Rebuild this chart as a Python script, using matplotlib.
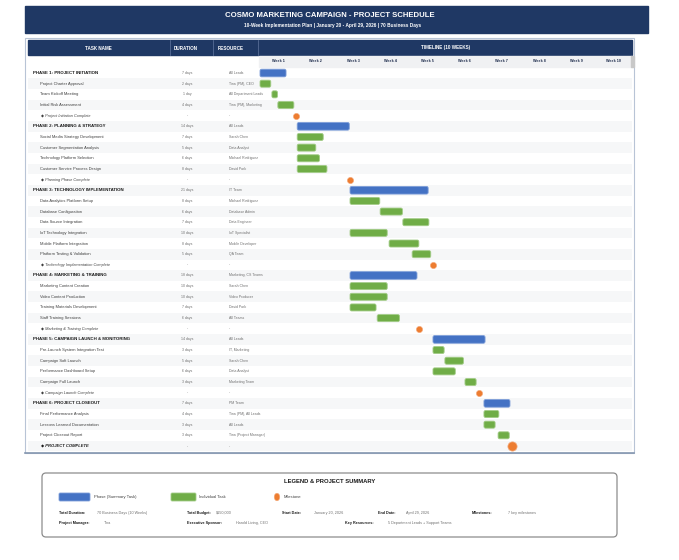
import numpy as np
import matplotlib
matplotlib.use('Agg')
import matplotlib.pyplot as plt
import matplotlib.transforms as mtrans
from matplotlib.patches import Rectangle, FancyBboxPatch, Ellipse

plt.rcParams['font.family'] = ['Liberation Sans', 'DejaVu Sans']

# ---------------- data ----------------
tasks = ['PHASE 1: PROJECT INITIATION', 'Project Charter Approval', 'Team Kickoff Meeting',
         'Initial Risk Assessment', 'Project Initiation Complete',
         'PHASE 2: PLANNING & STRATEGY', 'Social Media Strategy Development',
         'Customer Segmentation Analysis', 'Technology Platform Selection',
         'Customer Service Process Design', 'Planning Phase Complete',
         'PHASE 3: TECHNOLOGY IMPLEMENTATION', 'Data Analytics Platform Setup',
         'Database Configuration', 'Data Source Integration', 'IoT Technology Integration',
         'Mobile Platform Integration', 'Platform Testing & Validation',
         'Technology Implementation Complete',
         'PHASE 4: MARKETING & TRAINING', 'Marketing Content Creation', 'Video Content Production',
         'Training Materials Development', 'Staff Training Sessions', 'Marketing & Training Complete',
         'PHASE 5: CAMPAIGN LAUNCH & MONITORING', 'Pre-Launch System Integration Test',
         'Campaign Soft Launch', 'Performance Dashboard Setup', 'Campaign Full Launch',
         'Campaign Launch Complete',
         'PHASE 6: PROJECT CLOSEOUT', 'Final Performance Analysis', 'Lessons Learned Documentation',
         'Project Closeout Report', 'PROJECT COMPLETE']

# P = phase, T = task, M = milestone, F = final milestone
kinds = ['P', 'T', 'T', 'T', 'M',
         'P', 'T', 'T', 'T', 'T', 'M',
         'P', 'T', 'T', 'T', 'T', 'T', 'T', 'M',
         'P', 'T', 'T', 'T', 'T', 'M',
         'P', 'T', 'T', 'T', 'T', 'M',
         'P', 'T', 'T', 'T', 'F']

durations = ['7 days', '2 days', '1 day', '4 days', '-',
             '14 days', '7 days', '5 days', '6 days', '8 days', '-',
             '21 days', '8 days', '6 days', '7 days', '10 days', '8 days', '5 days', '-',
             '18 days', '10 days', '10 days', '7 days', '6 days', '-',
             '14 days', '3 days', '5 days', '6 days', '3 days', '-',
             '7 days', '4 days', '3 days', '3 days', '-']

resources = ['All Leads', 'Tina (PM), CEO', 'All Department Leads', 'Tina (PM), Marketing', '-',
             'All Leads', 'Sarah Chen', 'Data Analyst', 'Michael Rodriguez', 'David Park', '-',
             'IT Team', 'Michael Rodriguez', 'Database Admin', 'Data Engineer', 'IoT Specialist',
             'Mobile Developer', 'QA Team', '-',
             'Marketing, CS Teams', 'Sarah Chen', 'Video Producer', 'David Park', 'All Teams', '-',
             'All Leads', 'IT, Marketing', 'Sarah Chen', 'Data Analyst', 'Marketing Team', '-',
             'PM Team', 'Tina (PM), All Leads', 'All Leads', 'Tina (Project Manager)', '-']

# timeline position (10 units per week)
starts = [0, 0, 3.2, 4.8, 9.8,
          10, 10, 10, 10, 10, 24.3,
          24.2, 24.2, 32.3, 38.4, 24.2, 34.7, 40.9, 46.5,
          24.2, 24.2, 24.2, 24.2, 31.5, 42.7,
          46.5, 46.5, 49.7, 46.5, 55.1, 58.9,
          60.2, 60.2, 60.2, 64.0, 67.7]
spans = [7, 2.9, 1.5, 4.3, 0,
         14, 7, 5, 6, 8, 0,
         21, 8, 6, 7, 10, 8, 5, 0,
         18, 10, 10, 7, 6, 0,
         14, 3, 5, 6, 3, 0,
         7, 4, 3, 3, 0]

weeks = ['Week %d' % i for i in range(1, 11)]

NAVY = '#1f3864'
BLUE = '#4472c4'
GREEN = '#70ad47'
ORANGE = '#ed7d31'

# ---------------- figure ----------------
fig = plt.figure(figsize=(6.79, 5.60), dpi=100)
W, H = 679, 560

# decoration layer in pixel coordinates
deco = fig.add_axes([0, 0, 1, 1], zorder=0)
deco.set_xlim(0, W)
deco.set_ylim(H, 0)
deco.axis('off')

# title banner
deco.add_patch(Rectangle((25, 6), 623, 27, color=NAVY))
deco.text(330, 15.5, 'COSMO MARKETING CAMPAIGN - PROJECT SCHEDULE', color='white',
          fontsize=5.6, fontweight='bold', ha='center', va='center')
deco.text(333, 25.5, '10-Week Implementation Plan | January 20 - April 29, 2026 | 70 Business Days',
          color='white', fontsize=3.45, fontweight='bold', ha='center', va='center')

# table frame
deco.add_patch(Rectangle((25, 38), 609, 414.5, fill=False, ec='#b8c4d6', lw=0.8))
deco.plot([25, 634], [452.5, 452.5], color='#8597b0', lw=1.2)

# header row
deco.add_patch(Rectangle((28, 40), 604, 15, color=NAVY))
for xs in [170, 213, 258]:
    deco.plot([xs, xs], [40, 55], color='#6277a0', lw=0.5)
hdr = dict(color='white', fontsize=3.3, fontweight='bold', ha='center', va='center')
deco.text(98, 48, 'TASK NAME', **hdr)
deco.text(186, 48, 'DURATION', **hdr)
deco.text(231, 48, 'RESOURCE', **hdr)
deco.text(446, 48, 'TIMELINE (10 WEEKS)', **hdr)

# week header row
deco.add_patch(Rectangle((259, 56), 373, 10.5, color='#f0f1f3'))
deco.add_patch(Rectangle((631, 56), 2.5, 10.5, color='#c8c8c8'))

# ---------------- gantt axes ----------------
px_per_unit = 37.2 / 10
x_left = (28 - 260) / px_per_unit
x_right = 100
row_top, row_bot = 67.7, 451.3
ax = fig.add_axes([28 / W, 1 - row_bot / H, (632 - 28) / W, (row_bot - row_top) / H],
                  zorder=1, facecolor='none')
n = len(tasks)
ax.set_xlim(x_left, x_right)
ax.set_ylim(n - 0.5, -0.5)
for s in ax.spines.values():
    s.set_visible(False)
ax.set_yticks([])
ax.xaxis.tick_top()
ax.set_xticks(np.arange(5, 100, 10))
ax.set_xticklabels(weeks, fontsize=2.7, fontweight='bold', color='#1f2d4d')
ax.tick_params(axis='x', length=0, pad=3.6)

# zebra stripes
for i in range(n):
    if i % 2 == 1:
        ax.axhspan(i - 0.5, i + 0.5, color='#f6f7f8', zorder=0, lw=0)

y = np.arange(n)
kinds_arr = np.array(kinds)
starts_arr = np.array(starts)
spans_arr = np.array(spans)

ph = kinds_arr == 'P'
tk = kinds_arr == 'T'
ms = kinds_arr == 'M'
fin = kinds_arr == 'F'

row_px = (row_bot - row_top) / n
aspect = px_per_unit / row_px


def rounded(bars, fc, ec):
    # swap the plain bars for rounded ones with the same geometry
    for r in bars:
        r.set_visible(False)
        ax.add_patch(FancyBboxPatch((r.get_x(), r.get_y()), r.get_width(), r.get_height(),
                                    boxstyle='round,pad=0,rounding_size=0.45',
                                    mutation_aspect=aspect, fc=fc, ec=ec, lw=0.6, zorder=3))


b1 = ax.barh(y[ph], spans_arr[ph], left=starts_arr[ph], height=0.72, color=BLUE)
rounded(b1, BLUE, '#7f9fd9')
b2 = ax.barh(y[tk], spans_arr[tk], left=starts_arr[tk], height=0.66, color=GREEN)
rounded(b2, GREEN, '#a3cc88')
ax.scatter(starts_arr[ms], y[ms], s=20, color=ORANGE, edgecolors='#f4a97a',
           linewidths=0.4, zorder=4)
ax.scatter(starts_arr[fin], y[fin], s=44, color=ORANGE, edgecolors='#f4a97a',
           linewidths=0.5, zorder=4)

# table text: x in pixels, y in rows
blend = mtrans.blended_transform_factory(deco.transData, ax.transData)
for i in range(n):
    k = kinds[i]
    if k == 'P':
        ax.text(33, i, tasks[i], transform=blend, fontsize=3.2, fontweight='bold',
                color='#1a1a1a', va='center', ha='left')
    elif k == 'T':
        ax.text(40, i, tasks[i], transform=blend, fontsize=2.85, color='#404040',
                va='center', ha='left')
    elif k == 'M':
        ax.text(41, i, '\u25c6 ' + tasks[i], transform=blend, fontsize=2.8,
                style='italic', color='#404040', va='center', ha='left')
    else:
        ax.text(41, i, '\u25c6 ' + tasks[i], transform=blend, fontsize=3.0,
                style='italic', fontweight='bold', color='#1a1a1a', va='center', ha='left')
    ax.text(187, i, durations[i], transform=blend, fontsize=2.5, color='#707070',
            va='center', ha='center')
    ax.text(229, i, resources[i], transform=blend, fontsize=2.5, color='#707070',
            va='center', ha='left')

# ---------------- legend & summary ----------------
deco.add_patch(FancyBboxPatch((42, 473), 575, 64, boxstyle='round,pad=0,rounding_size=4',
                              fc='white', ec='#8c8c8c', lw=0.9))
deco.text(330, 481.5, 'LEGEND & PROJECT SUMMARY', fontsize=4.2, fontweight='bold',
          color='#1a1a1a', ha='center', va='center')
deco.add_patch(FancyBboxPatch((59, 493), 31, 8, boxstyle='round,pad=0,rounding_size=1.2',
                              fc=BLUE, ec='#7f9fd9', lw=0.6))
deco.text(94, 497, 'Phase (Summary Task)', fontsize=3.0, color='#404040', va='center')
deco.add_patch(FancyBboxPatch((171, 493), 25, 8, boxstyle='round,pad=0,rounding_size=1.2',
                              fc=GREEN, ec='#a3cc88', lw=0.6))
deco.text(199, 497, 'Individual Task', fontsize=3.0, color='#404040', va='center')
deco.add_patch(Ellipse((277, 497), 5.5, 7.5, fc=ORANGE, ec='#f4a97a', lw=0.4))
deco.text(284, 497, 'Milestone', fontsize=3.0, color='#404040', va='center')

summary = [
    (59, 97, 513, 'Total Duration:', '70 Business Days (10 Weeks)'),
    (187, 216, 513, 'Total Budget:', '$150,000'),
    (282, 314, 513, 'Start Date:', 'January 20, 2026'),
    (378, 406, 513, 'End Date:', 'April 29, 2026'),
    (472, 508, 513, 'Milestones:', '7 key milestones'),
    (59, 104, 523, 'Project Manager:', 'Tina'),
    (187, 236, 523, 'Executive Sponsor:', 'Harold Living, CEO'),
    (345, 388, 523, 'Key Resources:', '5 Department Leads + Support Teams'),
]
for xl, xv, yy, lab, val in summary:
    deco.text(xl, yy, lab, fontsize=2.7, fontweight='bold', color='#1a1a1a', va='center')
    deco.text(xv, yy, val, fontsize=2.7, color='#707070', va='center')

fig.savefig('out.png', dpi=100, facecolor='white')
